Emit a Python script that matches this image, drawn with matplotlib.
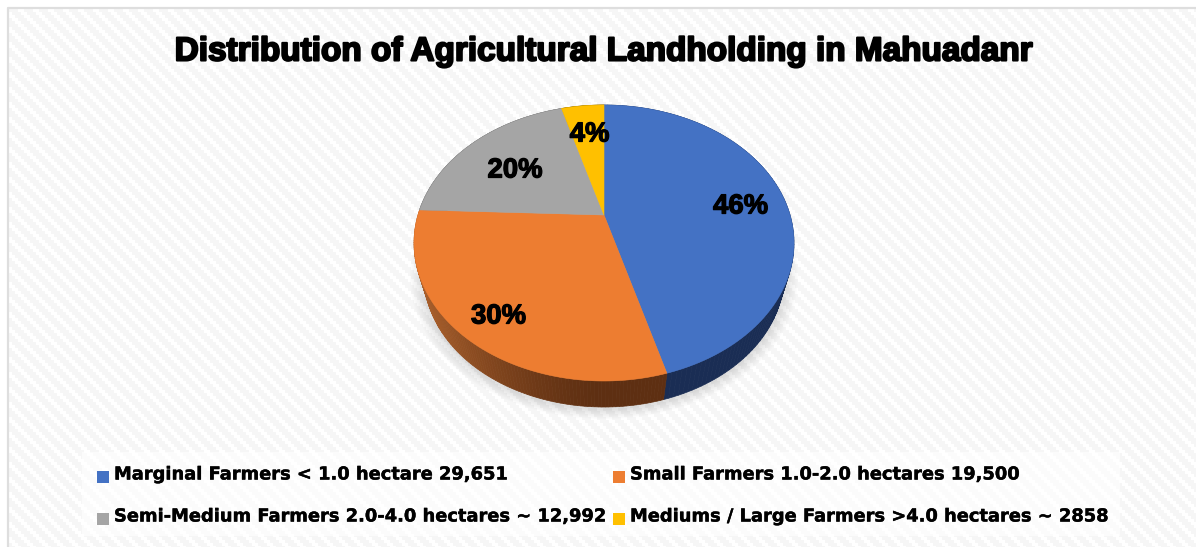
import numpy as np
import matplotlib
matplotlib.use("Agg")
import matplotlib.pyplot as plt
import matplotlib.patheffects as pe
from matplotlib.patches import Rectangle, Ellipse

# landholding counts per farmer class
categories = ["Marginal Farmers < 1.0 hectare 29,651",
              "Small Farmers 1.0-2.0 hectares 19,500",
              "Semi-Medium Farmers 2.0-4.0 hectares ~ 12,992",
              "Mediums / Large Farmers >4.0 hectares ~ 2858"]
counts = [29651, 19500, 12992, 2858]
pct_labels = ["46%", "30%", "20%", "4%"]
title = "Distribution of Agricultural Landholding in Mahuadanr"

colors = ["#4472c4", "#ed7d31", "#a5a5a5", "#ffc000"]
side_start = ["#1a2d54", "#5e2f12", "#555555", "#7f6000"]
side_end = ["#1a2d54", "#a65d2a", "#555555", "#7f6000"]

# pie geometry in pixels: top ellipse, tilted apex and lower rim
CX, CY, RX, RY = 604.0, 243.0, 190.0, 138.0
APEX = 28.0
LOW_CY, LOW_RX, LOW_RY = 275.0, 180.0, 132.0
K = APEX / RY
A = RX * np.sqrt(1 - K * K)


def rim(theta):
    # clockwise angle from 12 o'clock, projected with the tilt of the pie
    u, v = np.sin(theta), np.cos(theta)
    d = 1 + K * v
    return A * u / d, (RY * v + APEX) / d


def mix(c1, c2, t):
    a = np.array(matplotlib.colors.to_rgb(c1))
    b = np.array(matplotlib.colors.to_rgb(c2))
    return tuple(a + (b - a) * t)


fig = plt.figure(figsize=(11.96, 5.47), dpi=100)
ax = fig.add_axes([0, 0, 1, 1])
ax.set_xlim(0, 1196)
ax.set_ylim(547, 0)
ax.axis("off")

# striped paper background
yy, xx = np.mgrid[0:547, 0:1196]
stripes = (((xx // 3) * 3 - (yy // 3) * 3) % 15) < 8
bg = np.where(stripes, 0.962, 1.0)
ax.imshow(bg, cmap="gray", vmin=0, vmax=1, extent=(0, 1196, 547, 0),
          interpolation="nearest", aspect="auto", zorder=0)
ax.add_patch(Rectangle((0, 0), 7, 547, color="white", lw=0, zorder=1))
ax.add_patch(Rectangle((0, 0), 1196, 7, color="white", lw=0, zorder=1))
ax.plot([7.5, 7.5, 1196], [547, 7.5, 7.5], color="#dedede", lw=1.6, zorder=1)

# legend panel
ax.add_patch(Rectangle((82, 452), 1038, 84, color="white", alpha=0.65, lw=0, zorder=1))

# soft shadow under the pie
for i in range(10):
    ax.add_patch(Ellipse((CX, LOW_CY + 2), 2 * (LOW_RX + 14 - i * 1.4), 2 * (LOW_RY + 10 - i),
                         color="black", alpha=0.012, lw=0, zorder=2))

shares = np.array(counts) / sum(counts)
edges = np.concatenate([[0], np.cumsum(shares)]) * 2 * np.pi

# side wall strips
for i in range(len(counts)):
    th = np.linspace(edges[i], edges[i + 1], 120)
    x, y = rim(th)
    low_x = CX + x / RX * LOW_RX
    low_y = LOW_CY - y / RY * LOW_RY
    top_x = CX + x
    top_y = CY - y
    for j in range(len(th) - 1):
        t = np.clip((604 - top_x[j]) / 180.0, 0, 1)
        c = mix(side_start[i], side_end[i], t ** 1.5)
        ax.fill([top_x[j], top_x[j + 1], low_x[j + 1], low_x[j]],
                [top_y[j], top_y[j + 1], low_y[j + 1], low_y[j]],
                facecolor=c, edgecolor=c, lw=0.5, zorder=3)

# top face
for i in range(len(counts)):
    th = np.linspace(edges[i], edges[i + 1], 200)
    x, y = rim(th)
    ax.fill(np.r_[CX, CX + x], np.r_[CY - APEX, CY - y],
            facecolor=colors[i], edgecolor=colors[i], lw=0.4, zorder=4)

stroke = [pe.withStroke(linewidth=0.9, foreground="black")]

label_pos = [(740.5, 206.5), (498.5, 316.5), (515, 170.5), (589.5, 134.5)]
for lab, (px, py) in zip(pct_labels, label_pos):
    ax.text(px, py, lab, ha="center", va="center", fontsize=19.8, fontweight="bold",
            family="Liberation Sans", color="black", path_effects=stroke, zorder=5)

ax.text(605.5, 52, title, ha="center", va="center", fontsize=24, fontweight="bold",
        family="Liberation Sans", color="black",
        path_effects=[pe.withStroke(linewidth=1.5, foreground="black")], zorder=5)

# legend entries, two rows of two
swatch_x = [97, 613, 97, 613]
swatch_y = [471, 471, 513, 513]
for i, name in enumerate(categories):
    ax.add_patch(Rectangle((swatch_x[i], swatch_y[i]), 12, 12, color=colors[i], lw=0, zorder=5))
    ax.text(swatch_x[i] + 17, swatch_y[i] + 3.5, name, ha="left", va="center", fontsize=12.85,
            fontweight="bold", family="DejaVu Sans", color="black",
            path_effects=[pe.withStroke(linewidth=0.3, foreground="black")], zorder=5)

fig.savefig("out.png", dpi=100)
